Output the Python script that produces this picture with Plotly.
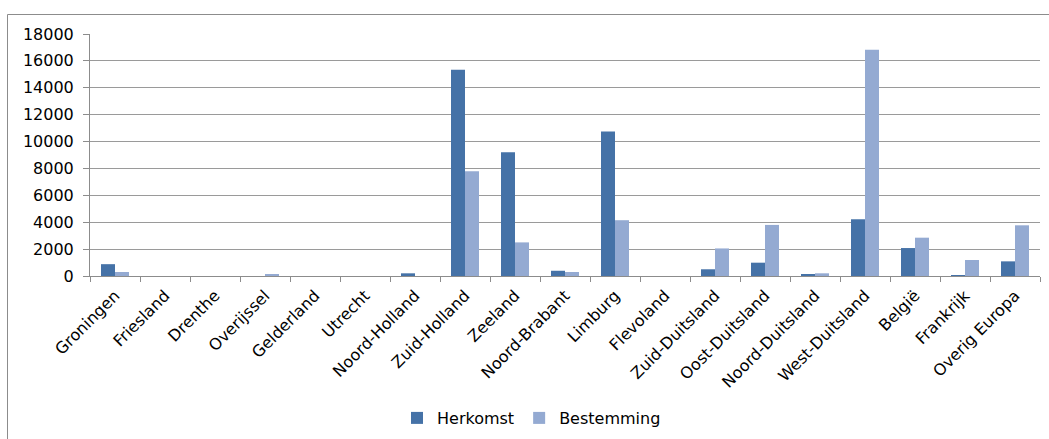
import plotly.graph_objects as go

categories = ["Groningen", "Friesland", "Drenthe", "Overijssel", "Gelderland", "Utrecht",
              "Noord-Holland", "Zuid-Holland", "Zeeland", "Noord-Brabant", "Limburg", "Flevoland",
              "Zuid-Duitsland", "Oost-Duitsland", "Noord-Duitsland", "West-Duitsland", "België",
              "Frankrijk", "Overig Europa"]
herkomst = [880, 0, 0, 0, 0, 0, 200, 15350, 9200, 390, 10750, 0,
            500, 990, 150, 4220, 2080, 30, 1090]
bestemming = [300, 0, 0, 150, 0, 0, 0, 7800, 2500, 300, 4150, 0,
              2050, 3800, 200, 16820, 2850, 1190, 3770]
y_ticks = [0, 2000, 4000, 6000, 8000, 10000, 12000, 14000, 16000, 18000]
y_tick_labels = [str(v) for v in y_ticks]

W, H = 1049, 439
ml, mr, mt, mb = 90, 9, 34, 163
pw, ph = W - ml - mr, H - mt - mb

font = "DejaVu Sans, Verdana, sans-serif"

fig = go.Figure()
fig.add_trace(go.Bar(name="Herkomst", x=categories, y=herkomst,
                     marker=dict(color="#4572A7", line=dict(width=0))))
fig.add_trace(go.Bar(name="Bestemming", x=categories, y=bestemming,
                     marker=dict(color="#94AAD2", line=dict(width=0))))

def px_to_paper_x(px):
    return (px - ml) / pw

def py_to_paper_y(py):
    return (H - mb - py) / ph

fig.update_layout(
    width=W, height=H,
    margin=dict(l=ml, r=mr, t=mt, b=mb, pad=0, autoexpand=False),
    paper_bgcolor="white", plot_bgcolor="white",
    barmode="group", bargap=0.44, bargroupgap=0,
    font=dict(family=font, size=16, color="#000000"),
    showlegend=True,
    legend=dict(orientation="h", x=px_to_paper_x(397), xanchor="left", y=py_to_paper_y(418),
                yanchor="middle", font=dict(size=16), itemwidth=30, traceorder="normal"),
    xaxis=dict(tickangle=-45, showgrid=False, showline=True, linecolor="#8c8c8c", linewidth=1,
               ticks="outside", ticklen=5, tickcolor="#8c8c8c", tickson="boundaries",
               tickfont=dict(size=16), automargin=False, ticklabelstandoff=3),
    yaxis=dict(range=[0, 18000], tickvals=y_ticks, ticktext=y_tick_labels, showgrid=True,
               gridcolor="#9a9a9a", gridwidth=1,
               showline=True, linecolor="#8c8c8c", linewidth=1, ticks="outside", ticklen=6,
               tickcolor="#8c8c8c", zeroline=False, tickfont=dict(size=16), automargin=False,
               ticklabelstandoff=6),
    shapes=[
        dict(type="line", xref="paper", yref="paper", x0=px_to_paper_x(7.5), x1=px_to_paper_x(1060),
             y0=py_to_paper_y(14.5), y1=py_to_paper_y(14.5), line=dict(color="#8c8c8c", width=1)),
        dict(type="line", xref="paper", yref="paper", x0=px_to_paper_x(7.5), x1=px_to_paper_x(7.5),
             y0=py_to_paper_y(14.5), y1=py_to_paper_y(450), line=dict(color="#8c8c8c", width=1)),
    ],
)

fig.write_html("out.html", config={"displayModeBar": False},
               post_script="document.body.style.margin='0';document.body.style.overflow='hidden';")
